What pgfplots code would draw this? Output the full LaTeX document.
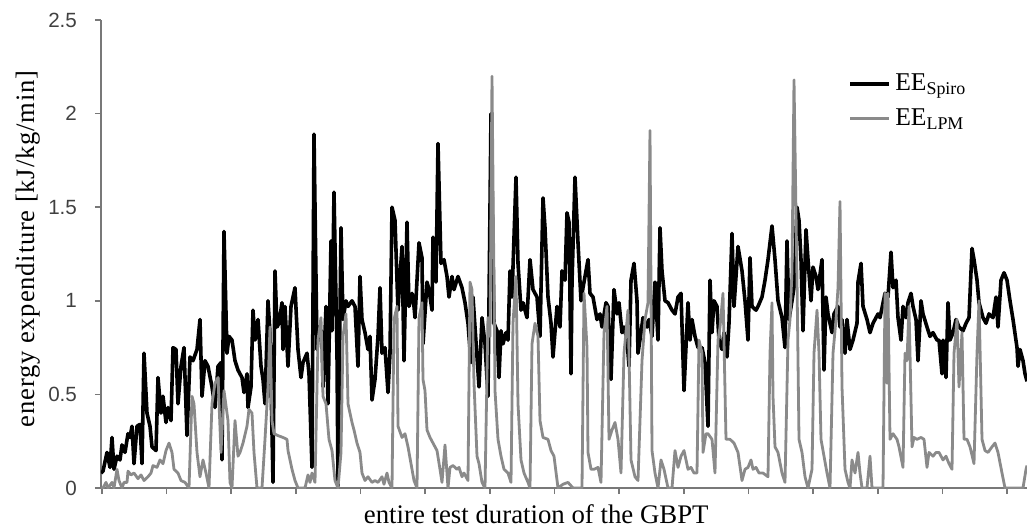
\documentclass[border=0pt]{standalone}
\usepackage{fontspec}
\setmainfont{Liberation Serif}
\newfontfamily\arial{Liberation Sans}
\usepackage{pgfplots}
\pgfplotsset{compat=1.18}
\definecolor{lpmgray}{RGB}{138,138,138}
\definecolor{axgray}{RGB}{120,120,120}

\begin{document}
\begin{tikzpicture}
\begin{axis}[
    scale only axis,
    width=463pt, height=234pt,
    xmin=101, xmax=1027, ymin=0, ymax=2.5,
    axis x line*=bottom, axis y line*=left,
    axis line style={axgray, line width=1.1pt},
    xtick={102,166.64,231.29,295.93,360.57,425.21,489.86,554.5,619.14,683.79,748.43,813.07,877.71,942.36,1007},
    xticklabels={},
    ytick={0,0.5,1,1.5,2,2.5},
    yticklabels={0,0.5,1,1.5,2,2.5},
    tick align=outside, major tick length=3pt,
    tick style={axgray, line width=0.8pt},
    /pgf/number format/assume math mode=true,
    yticklabel style={font=\arial\fontsize{10.3}{11}\selectfont, text=black!75, xshift=-5.5pt},
    xlabel={entire test duration of the GBPT},
    xlabel style={font=\fontsize{13.4}{14}\selectfont, at={(axis description cs:0.47,-0.055)}, anchor=center, inner sep=1pt},
    ylabel={energy expenditure [kJ/kg/min]},
    ylabel style={font=\fontsize{13.3}{15}\selectfont\addfontfeature{LetterSpace=3}, at={(axis description cs:-0.079,0.511)}, anchor=center},
    legend style={draw=none, fill=none, at={(axis description cs:0.807,0.89)}, anchor=north west,
        font=\fontsize{12.8}{13}\selectfont, row sep=5.5pt, column sep=1pt, inner sep=0pt, nodes={inner sep=1pt}},
    legend cell align=left,
    legend image code/.code={\draw[#1] (0pt,0pt) -- (19.5pt,0pt);},
    line join=round,
]
% EE Spiro
\addplot[black, line width=1.8pt] coordinates {
(101,0.08) (103,0.09) (107,0.19) (110,0.11) (112,0.27) (114,0.10) (117,0.17) (120,0.15) (122,0.23) (125,0.19)
(128,0.29) (130,0.27) (132,0.33) (134,0.13) (137,0.33) (140,0.34) (142,0.13) (144,0.72) (147,0.40) (150,0.33)
(152,0.22) (156,0.20) (158,0.59) (161,0.40) (163,0.49) (166,0.35) (168,0.43) (171,0.36) (173,0.75) (176,0.74)
(178,0.45) (181,0.65) (184,0.75) (187,0.28) (190,0.70) (193,0.68) (197,0.74) (200,0.90) (202,0.49) (205,0.68)
(208,0.65) (212,0.54) (215,0.43) (218,0.65) (221,0.67) (222,0.15) (224,1.37) (227,0.72) (229,0.81) (232,0.79)
(235,0.68) (238,0.63) (242,0.59) (244,0.51) (247,0.61) (248,0.43) (251,0.54) (253,0.95)
(255,0.79) (258,0.90) (261,0.65) (263,0.58) (265,0.45) (268,1.00) (270,0.83) (273,0.03) (275,1.16) (277,0.86)
(279,0.88) (282,0.99) (283,0.74) (285,0.97) (288,0.65) (291,0.97) (295,1.07) (298,0.74) (301,0.59) (303,0.67)
(307,0.72) (309,0.61) (312,0.11) (314,1.89) (317,0.74) (319,0.86) (322,0.83) (323,0.54) (326,0.97) (328,0.45)
(331,1.32) (332,0.84) (334,1.58) (337,0.72) (338,0.01) (341,1.39) (343,0.90) (346,1.00) (348,0.97) (352,1.00)
(355,0.97) (358,0.65) (360,1.13) (362,0.90) (365,0.83) (368,0.74) (370,0.81) (372,0.47) (375,0.58) (378,0.81)
(380,1.07) (382,0.72) (385,0.75) (388,0.51) (390,0.72) (392,1.50) (395,1.43) (398,0.95) (400,1.13) (402,1.29)
(404,0.68) (407,1.42) (409,0.97) (412,1.04) (414,0.97)
(415,0.91) (419,1.31) (422,1.23) (423,0.77) (427,1.10) (429,1.06) (432,0.95) (433,1.34) (436,1.10) (438,1.84)
(441,1.20) (444,1.22) (447,1.13) (449,1.02) (452,1.13) (454,1.06) (458,1.13) (462,1.07) (465,0.99) (468,0.88)
(471,0.67) (473,1.02) (477,0.70) (479,0.54) (482,0.91) (485,0.77) (488,0.49) (491,2.00) (494,0.88) (497,0.84)
(499,0.59) (501,0.84) (503,0.77) (506,0.83) (508,0.79) (510,1.16) (512,1.02) (516,1.66) (518,1.20) (521,0.95)
(523,0.99) (527,0.91) (530,1.22) (533,1.06) (537,1.02) (540,0.81) (543,1.55) (545,1.39) (548,1.02) (551,0.88)
(553,0.70) (557,0.97) (560,0.86) (562,1.16) (565,1.11) (567,1.47) (569,1.42) (571,0.61) (572,1.10) (575,1.66)
(578,1.31) (581,1.00) (583,1.07) (588,1.22) (590,1.04) (593,1.02) (597,0.90) (600,0.93) (602,0.86) (606,0.99)
(608,0.97) (611,0.58) (614,1.06) (617,0.93) (619,0.99) (622,0.83) (624,0.86) (627,0.79) (629,0.65) (631,1.11)
(634,1.20) (637,1.00) (638,0.72) (641,0.83) (643,0.91) (647,0.86) (649,0.90) (652,0.81) (655,1.10) (658,0.79)
(660,1.39) (662,1.16) (665,1.00) (668,0.99) (672,0.95) (675,0.93) (678,1.02) (681,1.04) (684,0.52) (688,0.99)
(690,0.79) (692,0.90) (695,0.81) (698,0.75) (702,0.75) (705,0.67) (708,0.33) (710,1.11) (712,0.83) (714,1.00)
(717,0.97) (719,0.79) (722,0.74) (724,0.83) (727,0.70) (729,0.88) (732,1.36) (734,0.97)
(738,1.29) (742,1.16) (745,1.00) (748,0.79) (750,1.23) (752,0.97) (756,0.95) (758,0.97) (762,1.02) (765,1.11)
(768,1.22) (772,1.40) (775,1.22) (778,1.00) (782,0.91) (785,0.75) (787,1.32) (789,0.90) (792,1.00) (794,1.07)
(797,1.50) (799,1.43) (801,1.22) (803,0.84) (806,1.38) (808,1.22) (811,1.00) (813,1.18) (816,1.13) (818,1.06)
(822,1.22) (824,0.63) (826,1.02) (828,0.93) (832,0.83) (834,0.93) (838,0.97) (840,0.86) (842,0.90) (845,0.72)
(847,0.90) (850,0.74) (853,0.79) (857,0.88) (858,1.10) (861,1.20) (863,0.97) (867,0.90) (870,0.83) (873,0.88)
(878,0.93)
(880,0.91) (885,1.04) (888,1.02) (891,1.26) (893,1.07) (896,1.11) (898,0.91) (901,0.79) (903,0.97) (906,0.91)
(908,0.99) (911,1.04) (913,0.97) (916,0.90) (918,0.68) (921,1.00) (923,0.93) (927,0.86) (930,0.81) (933,0.83)
(937,0.79) (939,0.79) (942,0.61) (943,0.79) (946,0.59) (948,0.99) (950,0.79) (953,0.83) (956,0.90) (959,0.86)
(963,0.84) (966,0.88) (969,0.91) (972,1.28) (974,1.22) (977,1.11) (979,0.99) (983,0.91) (986,0.88) (989,0.93)
(993,0.91) (996,1.02) (998,0.86) (1001,1.11) (1004,1.15) (1007,1.11) (1010,1.00) (1013,0.90) (1017,0.75) (1018,0.65)
(1020,0.74) (1023,0.68) (1025,0.61) (1027,0.57)
};
\addlegendentry{EE\textsubscript{Spiro}}
% EE LPM
\addplot[lpmgray, line width=1.4pt] coordinates {
(101,0.0) (103,0.0) (106,0.03) (108,0.0) (112,0.03) (114,0.0) (117,0.10) (119,0.04) (122,0.0) (124,0.03)
(127,0.03) (128,0.09) (131,0.07) (134,0.08) (138,0.05) (141,0.07) (144,0.04) (148,0.06) (151,0.08) (153,0.12)
(157,0.11) (160,0.15) (163,0.13) (166,0.20) (169,0.24) (172,0.19) (174,0.10) (178,0.08) (181,0.04) (185,0.03)
(189,0.0) (192,0.49) (194,0.45) (197,0.19) (200,0.06) (203,0.15) (206,0.08) (209,0.0) (212,0.45) (215,0.56)
(218,0.59) (221,0.19) (224,0.52) (228,0.36) (230,0.03) (232,0.0) (235,0.36) (238,0.17) (240,0.19) (243,0.24)
(247,0.33) (249,0.42) (252,0.40) (254,0.19) (257,0.0) (262,0.0) (265,0.26) (268,0.54) (270,0.86) (272,0.36)
(274,0.29) (278,0.28) (283,0.27) (287,0.26) (288,0.20) (292,0.10) (295,0.04) (298,0.0) (305,0.0) (308,0.07)
(310,0.03) (312,0.08) (315,0.03) (318,0.79) (321,0.91) (323,0.49) (326,0.45) (329,0.26) (332,0.20) (335,0.04)
(338,0.0) (341,0.19) (343,0.81) (346,0.93) (348,0.45) (352,0.35) (354,0.31) (357,0.24) (360,0.19) (362,0.08)
(365,0.04) (368,0.06) (372,0.03) (375,0.04) (378,0.03) (382,0.06) (384,0.02) (387,0.08) (389,0.03) (392,0.0)
(394,0.90) (397,0.97) (398,0.33) (402,0.27) (405,0.29) (408,0.22) (411,0.13) (414,0.04) (417,0.0) (419,0.91)
(422,0.99) (423,0.58) (425,0.52) (427,0.31) (430,0.27) (433,0.24) (437,0.20) (440,0.10) (442,0.03) (445,0.23)
(448,0.0) (450,0.11) (453,0.12) (457,0.10) (459,0.11) (462,0.06) (464,0.08) (468,0.04) (470,1.10) (472,1.06)
(474,0.56) (477,0.17) (479,0.13) (482,0.03) (485,0.0) (488,0.91) (490,0.81) (492,2.20) (495,0.52) (498,0.26)
(501,0.17) (504,0.10) (508,0.08) (511,0.03) (513,0.88) (516,1.13) (518,0.45) (521,0.15) (524,0.08) (528,0.03)
(530,0.0) (532,0.77) (535,0.88) (538,0.81) (540,0.36) (543,0.27) (548,0.26) (551,0.20) (554,0.17) (558,0.0)
(563,0.02) (568,0.03) (573,0.0) (582,0.0) (584,1.04) (587,0.75) (588,0.19) (591,0.10) (594,0.10) (598,0.11)
(601,0.03) (604,0.83) (607,0.97) (609,0.26) (612,0.31) (615,0.35) (618,0.26) (621,0.08) (624,0.72) (628,0.95)
(629,0.72) (631,0.15) (635,0.06) (638,0.04) (642,0.68) (645,0.90) (648,0.99) (650,1.91) (652,0.20) (655,0.08)
(658,0.0) (661,0.15) (664,0.10) (668,0.0) (672,0.0) (675,0.20) (678,0.11) (681,0.17) (684,0.20) (688,0.10)
(691,0.11) (694,0.08) (697,0.08) (699,0.79) (702,0.72) (703,0.19) (706,0.29) (708,0.29) (712,0.26) (715,0.08)
(718,0.79) (720,0.86) (723,1.04) (726,0.26) (730,0.26) (734,0.24) (738,0.19) (742,0.04) (745,0.10) (748,0.11)
(751,0.15) (753,0.10) (756,0.11) (759,0.08) (763,0.08) (768,0.06) (770,0.72) (772,0.99) (773,0.49) (775,0.22)
(778,0.19) (782,0.08) (785,0.03) (788,0.79) (790,0.90) (792,1.16) (794,2.18) (797,1.11) (799,0.26) (802,0.19)
(805,0.06) (808,0.0) (812,0.10) (814,0.72) (817,0.95) (819,0.72) (821,0.26) (823,0.20) (827,0.08) (830,0.0)
(833,0.72) (836,0.90) (838,1.07) (840,1.53) (842,0.54) (845,0.10) (848,0.03) (850,0.0) (852,0.15) (855,0.08)
(858,0.19) (860,0.08) (862,0.0) (867,0.0) (870,0.17) (872,0.0) (883,0.0) (885,1.04) (887,0.56) (888,1.04)
(890,0.26) (893,0.29) (897,0.26) (899,0.22) (903,0.11) (905,0.72) (907,0.68) (909,0.97) (912,0.22) (914,0.27)
(917,0.26) (921,0.27) (924,0.26) (927,0.11) (929,0.19) (933,0.17) (936,0.19) (939,0.19) (943,0.15) (946,0.17)
(949,0.13) (952,0.10) (954,0.72) (957,0.90) (959,0.54) (962,0.83) (964,0.26) (967,0.26) (970,0.22) (974,0.13)
(977,0.72) (979,1.00) (982,0.26) (985,0.20) (988,0.19) (992,0.22) (995,0.24) (998,0.19) (1002,0.08) (1005,0.0)
(1023,0.0) (1026,0.10) (1027,0.12)
};
\addlegendentry{EE\textsubscript{LPM}}
\end{axis}
\pgfresetboundingbox
\path[use as bounding box] (-50.5pt,-21.5pt) rectangle (463pt,244pt);
\end{tikzpicture}
\end{document}
